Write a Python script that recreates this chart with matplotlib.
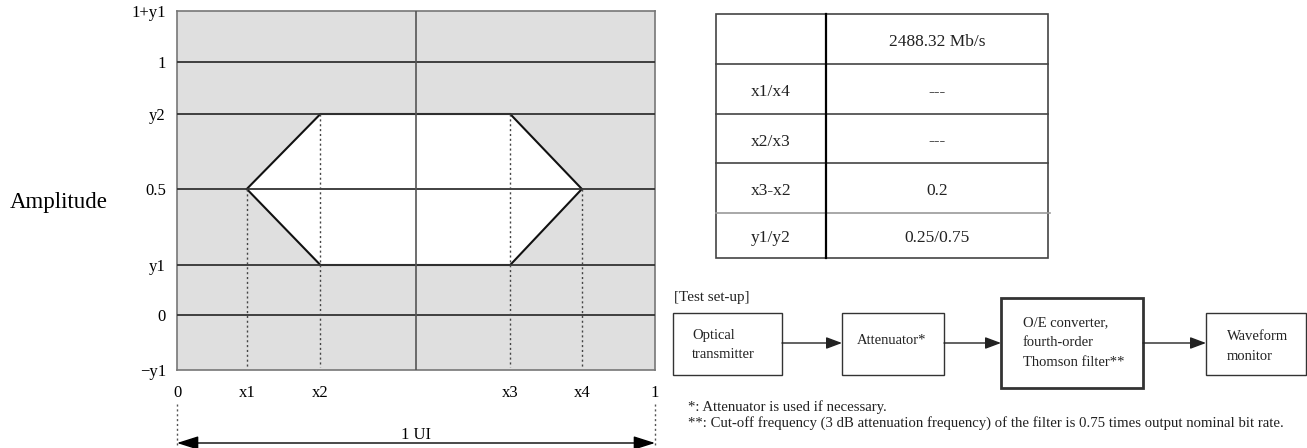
import matplotlib.pyplot as plt
from matplotlib.patches import Rectangle, Polygon

plt.rcParams['font.family'] = ['Liberation Serif', 'DejaVu Serif']

# amplitude levels (labels) and where they sit on the drawing (schematic, not linear)
level_labels = ["\u2212y1", "0", "y1", "0.5", "y2", "1", "1+y1"]
level_pos = [0.0, 1.1, 2.1, 3.62, 5.12, 6.16, 7.18]

# time points in the unit interval
time_labels = ["0", "x1", "x2", "x3", "x4", "1"]
time_pos = [0.0, 0.146, 0.30, 0.697, 0.847, 1.0]

# table content
table_header = "2488.32 Mb/s"
table_params = ["x1/x4", "x2/x3", "x3-x2", "y1/y2"]
table_values = ["---", "---", "0.2", "0.25/0.75"]

# test set-up blocks
blocks = ["Optical\ntransmitter", "Attenuator*",
          "O/E converter,\nfourth-order\nThomson filter**", "Waveform\nmonitor"]
notes = ["*: Attenuator is used if necessary.",
         "**: Cut-off frequency (3 dB attenuation frequency) of the filter is 0.75 times output nominal bit rate."]

W, H = 1307, 448
fig = plt.figure(figsize=(W / 100, H / 100), dpi=100)

# ---- eye mask ----
ax = fig.add_axes([177 / W, (H - 370) / H, 478 / W, 359 / H])
ax.set_xlim(0, 1)
ax.set_ylim(level_pos[0], level_pos[-1])
ax.set_facecolor('#dfdfdf')

y_lo, y_mid, y_hi = level_pos[2], level_pos[3], level_pos[4]
x1, x2, x3, x4 = time_pos[1:5]
eye = Polygon([(x1, y_mid), (x2, y_hi), (x3, y_hi), (x4, y_mid), (x3, y_lo), (x2, y_lo)],
              closed=True, facecolor='white', edgecolor='#111111', lw=1.5, zorder=2)
ax.add_patch(eye)

for y in level_pos[1:-1]:
    ax.axhline(y, color='#333333', lw=1.3, zorder=3)
ax.axvline(0.5, color='#555555', lw=1.2, zorder=3)

for x, y in zip([x1, x2, x3, x4], [y_mid, y_hi, y_hi, y_mid]):
    ax.plot([x, x], [y, 0.06], ls=(0, (1.5, 2)), color='#444444', lw=1.0, zorder=3)

for s in ax.spines.values():
    s.set_color('#777777')
    s.set_linewidth(1.2)

ax.set_yticks(level_pos)
ax.set_yticklabels(level_labels, fontsize=12)
ax.set_xticks(time_pos)
ax.set_xticklabels(time_labels, fontsize=12)
ax.tick_params(axis='y', length=0, pad=8)
ax.tick_params(axis='x', length=0, pad=11)

fig.text(10 / W, 1 - 202 / H, "Amplitude", fontsize=16.5, va='center', ha='left')

# 1 UI arrow
ax.annotate('', xy=(0, -1.46), xytext=(1, -1.46), annotation_clip=False,
            arrowprops=dict(arrowstyle='<|-|>,head_length=1.1,head_width=0.35',
                            mutation_scale=12, color='black', lw=1.0,
                            shrinkA=0, shrinkB=0))
for x in (0, 1):
    ax.plot([x, x], [-0.68, -1.5], ls=(0, (1.5, 2)), color='#555555', lw=1.0, clip_on=False)
ax.text(0.5, -1.3, "1 UI", fontsize=12, ha='center', va='center')

# ---- overlay in pixel coordinates for table and set-up ----
ov = fig.add_axes([0, 0, 1, 1])
ov.set_xlim(0, W)
ov.set_ylim(H, 0)
ov.axis('off')
ov.patch.set_alpha(0)

tx0, tx1, tcol = 716, 1048, 826
row_edges = [14, 64, 114, 163, 213, 258]
ov.add_patch(Rectangle((tx0, row_edges[0]), tx1 - tx0, row_edges[-1] - row_edges[0],
                       fill=False, edgecolor='#444444', lw=1.2))
for i, y in enumerate(row_edges[1:-1]):
    last = i == len(row_edges) - 3
    ov.plot([tx0, tx1 + (2 if last else 0)], [y, y],
            color='#9a9a9a' if last else '#444444', lw=1.2)
ov.plot([tcol, tcol], [row_edges[0], row_edges[-1]], color='black', lw=1.6)

cells = [("", table_header)] + list(zip(table_params, table_values))
for i, (p, v) in enumerate(cells):
    yc = (row_edges[i] + row_edges[i + 1]) / 2 + 3
    ov.text((tx0 + tcol) / 2, yc, p, fontsize=12.5, ha='center', va='center', color='#222222')
    ov.text((tcol + tx1) / 2, yc, v, fontsize=12.5, ha='center', va='center', color='#222222')

# test set-up diagram
ov.text(674, 297, "[Test set-up]", fontsize=10.9, ha='left', va='center', color='#222222')
box_x = [(673, 782), (842, 944), (1001, 1143), (1206, 1306)]
box_y = [(313, 375), (313, 375), (298, 388), (313, 375)]
box_lw = [1.0, 1.0, 2.0, 1.0]
text_x = [692, 857, 1023, 1227]
text_y = [345, 341, 343, 346]
for (bx0, bx1), (by0, by1), lw, lbl, tx, ty in zip(box_x, box_y, box_lw, blocks, text_x, text_y):
    ov.add_patch(Rectangle((bx0, by0), bx1 - bx0, by1 - by0, fill=False,
                           edgecolor='#333333', lw=lw))
    ov.text(tx, ty, lbl, fontsize=10.5, ha='left', va='center', color='#222222',
            linespacing=1.7)
for (a0, a1), (b0, b1) in zip(box_x[:-1], box_x[1:]):
    ov.annotate('', xy=(b0, 343), xytext=(a1, 343),
                arrowprops=dict(arrowstyle='-|>,head_length=0.8,head_width=0.3',
                                mutation_scale=12, color='#222222', lw=1.0,
                                shrinkA=0, shrinkB=0))

for k, note in enumerate(notes):
    ov.text(688, 407 + 16 * k, note, fontsize=10.6, ha='left', va='center', color='#222222')

fig.savefig('out.png', dpi=100)
